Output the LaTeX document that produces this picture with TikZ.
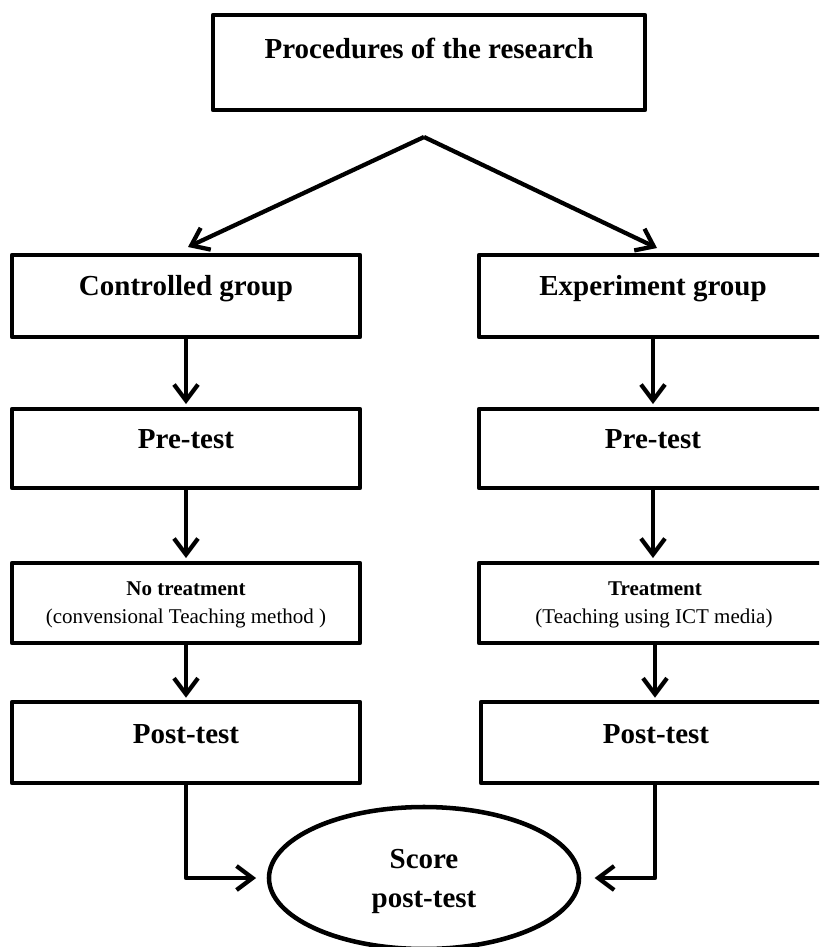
\documentclass[tikz,border=0pt]{standalone}
\usepackage{fontspec}
\setmainfont{Liberation Serif}
\usetikzlibrary{arrows.meta,shapes.geometric}
\begin{document}
\begin{tikzpicture}[x=0.75pt,y=-0.75pt,
  box/.style={draw, line width=3.4pt, line join=round, rectangle, inner sep=0pt, minimum width=261pt},
  oval/.style={draw, line width=3.4pt, ellipse, inner sep=0pt, minimum width=232.5pt, minimum height=106.5pt},
  big/.style={font=\fontsize{21.75}{24}\selectfont\bfseries, inner sep=0pt, anchor=base},
  smallb/.style={font=\fontsize{15.75}{18}\selectfont\bfseries, inner sep=0pt, anchor=base},
  smallr/.style={font=\fontsize{15.75}{18}\selectfont, inner sep=0pt, anchor=base},
  arr/.style={line width=3.2pt, line join=round, -{Straight Barb[length=12pt,width=18pt,line width=3.2pt]}}
]
\useasboundingbox (0,0) rectangle (819,947);
\clip (0,0) rectangle (819,947);

% boxes
\node[box, minimum width=324pt, minimum height=71.25pt] (top) at (429,62.5) {};
\node[box, minimum height=61.5pt] (c1) at (186,296) {};
\node[box, minimum height=61.5pt] (e1) at (653,296) {};
\node[box, minimum height=59.25pt] (c2) at (186,448.5) {};
\node[box, minimum height=59.25pt] (e2) at (653,448.5) {};
\node[box, minimum height=60pt] (c3) at (186,603) {};
\node[box, minimum height=60pt] (e3) at (653,603) {};
\node[box, minimum height=60.75pt] (c4) at (186,742.5) {};
\node[box, minimum height=60.75pt] (e4) at (655,742.5) {};
\node[oval] (sc) at (424,878) {};

% texts
\node[big] (ttop) at (429,58) {Procedures of the research};
\node[big] (tc1) at (186,295) {Controlled group};
\node[big] (te1) at (653,295) {Experiment group};
\node[big] (tc2) at (186,448) {Pre-test};
\node[big] (te2) at (653,448) {Pre-test};
\node[smallb] (tc3a) at (186,595) {No treatment};
\node[smallr] (tc3b) at (186,623) {(convensional Teaching method )};
\node[smallb] (te3a) at (655,595) {Treatment};
\node[smallr] (te3b) at (654,623) {(Teaching using ICT media)};
\node[big] (tc4) at (186,743) {Post-test};
\node[big] (te4) at (656,743) {Post-test};
\node[big] (ts1) at (424,868) {Score};
\node[big] (ts2) at (424,907) {post-test};

% top split arrows
\coordinate (apex) at (424,137);
\coordinate (lt) at (188,247);
\coordinate (rt) at (657,248);
\draw[arr] (apex) -- (lt);
\draw[arr] (apex) -- (rt);

% vertical arrows
\draw[arr, shorten >=2pt] (c1.south) -- (c2.north);
\draw[arr, shorten >=2pt] (e1.south) -- (e2.north);
\draw[arr, shorten >=2pt] (c2.south) -- (c3.north);
\draw[arr, shorten >=2pt] (e2.south) -- (e3.north);
\draw[arr, shorten >=1.5pt] (c3.south) -- (c4.north);
\draw[arr, shorten >=1.5pt] (e3.south -| e4.south) -- (e4.north);

% to score
\draw[arr, shorten >=8pt] (c4.south) |- (sc.west);
\draw[arr, shorten >=10pt] (e4.south) |- (sc.east);
\end{tikzpicture}
\end{document}
